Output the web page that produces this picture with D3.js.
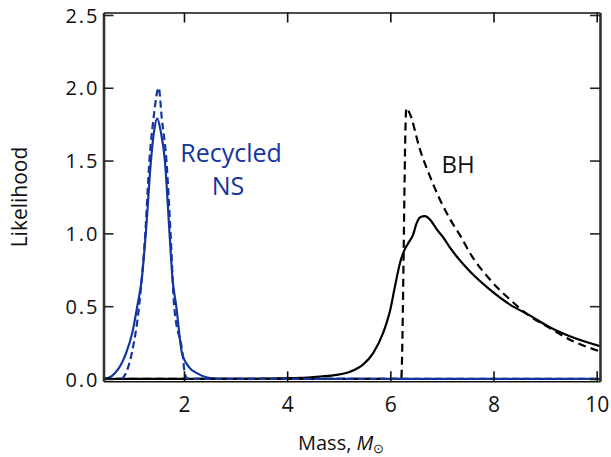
<html>
<head>
<style>
  body{margin:0;background:#fff}
  .frame text{font-family:"Open Sans",sans-serif}
</style>
</head>
<body>
<div id="mass-chart"></div>
<script src="https://d3js.org/d3.v7.min.js"></script>
<script>
// ---- data: [mass, likelihood] ----
var nsSolid = [
  [0.44,0.002],[0.55,0.01],[0.66,0.04],[0.78,0.10],[0.88,0.18],[1.0,0.32],
  [1.095,0.5],[1.18,0.68],[1.26,1.0],[1.36,1.5],[1.42,1.70],[1.48,1.79],
  [1.55,1.70],[1.63,1.5],[1.72,1.0],[1.78,0.68],[1.85,0.5],[1.96,0.18],
  [2.1,0.08],[2.25,0.04],[2.45,0.01],[2.7,0.0],[10.064,0.0]
];
var nsDashed = [
  [0.80,0.0],[0.86,0.03],[0.99,0.18],[1.13,0.5],[1.25,1.0],[1.33,1.5],
  [1.41,1.79],[1.51,2.0],[1.57,1.79],[1.66,1.5],[1.74,1.0],[1.81,0.5],
  [1.97,0.18],[2.02,0.03],[2.08,0.0],[10.064,0.0]
];
var bhSolid = [
  [0.44,0],[3.0,0],[3.6,0.002],[4.25,0.007],[4.64,0.017],[4.96,0.028],
  [5.22,0.05],[5.47,0.098],[5.67,0.179],[5.86,0.316],[6.0,0.477],
  [6.09,0.637],[6.19,0.80],[6.28,0.89],[6.36,0.94],[6.44,0.99],[6.51,1.07],
  [6.58,1.11],[6.67,1.118],[6.78,1.09],[6.90,1.027],[7.03,0.97],[7.16,0.90],
  [7.54,0.74],[7.93,0.614],[8.32,0.511],[8.71,0.435],[9.09,0.355],
  [9.48,0.293],[10.064,0.225]
];
var bhDashed = [
  [0.44,0],[6.21,0],[6.31,1.86],[6.38,1.82],[6.57,1.58],[6.77,1.39],
  [6.96,1.233],[7.16,1.096],[7.38,0.97],[7.54,0.867],[7.93,0.683],
  [8.32,0.545],[8.71,0.43],[9.09,0.35],[9.48,0.27],[10.064,0.19]
];
var xTicks = [2, 4, 6, 8, 10];
var yTicks = [0, 0.5, 1.0, 1.5, 2.0, 2.5];

(function () {
  var
    width  = 611,
    height = 457,
    left   = 103.5,
    right  = 600,
    top    = 12.5,
    bottom = 381.3,
    blue   = '#1434a0',
    ink    = '#111',
    x = d3.scaleLinear().domain([0.44, 10.064]).range([left, right]),
    y = d3.scaleLinear().domain([-0.016, 2.517]).range([bottom, top]);

  var svg = d3.select('#mass-chart').append('svg')
    .attr('class', 'frame')
    .attr('width', width)
    .attr('height', height);

  svg.append('clipPath').attr('id', 'plotclip')
    .append('rect')
    .attr('x', left).attr('y', top)
    .attr('width', right - left).attr('height', bottom - top);

  var line = d3.line()
    .x(function (d) { return x(d[0]); })
    .y(function (d) { return y(d[1]); })
    .curve(d3.curveMonotoneX);

  var plot = svg.append('g').attr('clip-path', 'url(#plotclip)');

  plot.append('path').attr('d', line(nsSolid))
    .attr('fill', 'none').attr('stroke', blue).attr('stroke-width', 2.2);
  plot.append('path').attr('d', line(bhSolid))
    .attr('fill', 'none').attr('stroke', '#000').attr('stroke-width', 2.2);
  plot.append('path').attr('d', line(bhDashed))
    .attr('fill', 'none').attr('stroke', '#000').attr('stroke-width', 2.2)
    .attr('stroke-dasharray', '8,5');
  plot.append('path').attr('d', line(nsDashed))
    .attr('fill', 'none').attr('stroke', blue).attr('stroke-width', 2.2)
    .attr('stroke-dasharray', '7,4');

  // axes, ticks all pointing inward
  var gx = svg.append('g').attr('transform', 'translate(0,' + bottom + ')')
    .call(d3.axisBottom(x).tickValues(xTicks).tickSize(-10).tickSizeOuter(0).tickPadding(16));
  var gxt = svg.append('g').attr('transform', 'translate(0,' + top + ')')
    .call(d3.axisTop(x).tickValues(xTicks).tickSize(-10).tickSizeOuter(0).tickFormat(''));
  var gy = svg.append('g').attr('transform', 'translate(' + left + ',0)')
    .call(d3.axisLeft(y).tickValues(yTicks).tickSize(-10).tickSizeOuter(0)
      .tickFormat(d3.format('.1f')).tickPadding(5));
  var gyr = svg.append('g').attr('transform', 'translate(' + right + ',0)')
    .call(d3.axisRight(y).tickValues(yTicks).tickSize(-10).tickSizeOuter(0).tickFormat(''));

  [gx, gxt].forEach(function (g) {
    g.select('.domain').attr('stroke', ink).attr('stroke-width', 1.5);
    g.selectAll('.tick line').attr('stroke', ink).attr('stroke-width', 1.6);
  });
  [gy, gyr].forEach(function (g) {
    g.select('.domain').attr('stroke', '#333').attr('stroke-width', 2.6);
    g.selectAll('.tick line').attr('stroke', '#222').attr('stroke-width', 1.6);
  });

  gx.selectAll('.tick text')
    .style('font-family', '"Open Sans", sans-serif')
    .style('font-size', '21px').style('fill', ink);
  gy.selectAll('.tick text')
    .style('font-family', '"Open Sans", sans-serif')
    .style('font-size', '20px').style('letter-spacing', '2px')
    .style('fill', ink).attr('dy', '0.36em').attr('x', -4);

  // axis titles
  svg.append('text')
    .attr('transform', 'translate(27,197) rotate(-90)')
    .attr('text-anchor', 'middle')
    .style('font-size', '21px').style('fill', ink)
    .text('Likelihood');

  var xl = svg.append('text')
    .attr('x', 298).attr('y', 450)
    .style('font-size', '20px').style('fill', ink);
  xl.append('tspan').text('Mass, ');
  xl.append('tspan').style('font-style', 'italic').text('M');
  xl.append('tspan').attr('dy', 3).style('font-size', '13px').text('\u2299');

  // curve labels
  svg.append('text').attr('x', 231).attr('y', 162).attr('text-anchor', 'middle')
    .style('font-size', '25px').style('fill', blue).text('Recycled');
  svg.append('text').attr('x', 228).attr('y', 195).attr('text-anchor', 'middle')
    .style('font-size', '25px').style('fill', blue).text('NS');
  svg.append('text').attr('x', 458).attr('y', 172.5).attr('text-anchor', 'middle')
    .style('font-size', '24px').style('fill', ink).text('BH');
})();
</script>
</body>
</html>
